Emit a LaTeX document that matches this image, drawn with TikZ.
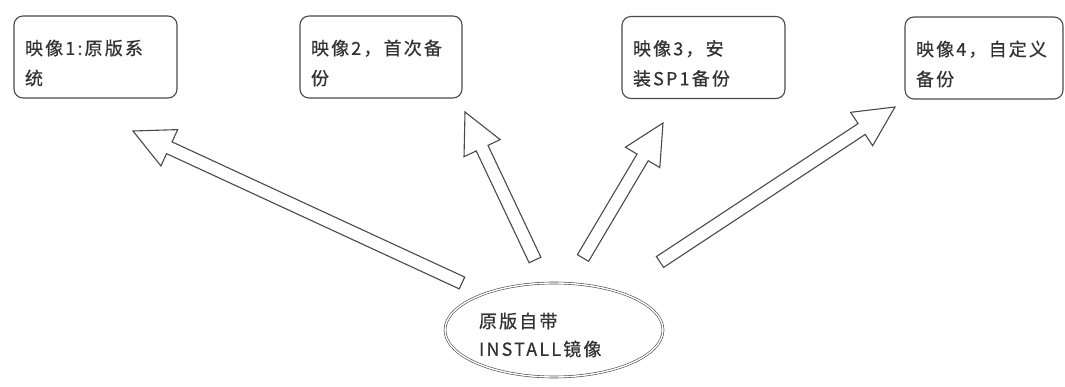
\documentclass[tikz,border=0pt]{standalone}
\usepackage{fontspec}
\usetikzlibrary{calc,shapes.geometric}
\newfontfamily\cjk[LetterSpace=12,FakeBold=0.6]{Noto Sans CJK SC}
\definecolor{linegray}{HTML}{4A4A4A}
\definecolor{textgray}{HTML}{333333}
\newcommand\blockarrow[2]{%
  \coordinate (#2h) at ($(#2)!40pt!(#1)$);
  \draw[blockarr] ($(#1)!6.5pt!90:(#2)$) -- ($(#2h)!6.5pt!-90:(#1)$) -- ($(#2h)!20pt!-90:(#1)$) -- (#2)
    -- ($(#2h)!20pt!90:(#1)$) -- ($(#2h)!6.5pt!90:(#1)$) -- ($(#1)!6.5pt!-90:(#2)$) -- cycle;}
\newcommand\lowertext[1]{\endgraf\vspace*{-#1}}
\begin{document}
\begin{tikzpicture}[x=1pt,y=-1pt,
  imgbox/.style={draw=linegray, line width=1.1pt, rounded corners=9pt, minimum height=82pt,
    inner xsep=11pt, text width=#1, align=left, font=\cjk\fontsize{18}{30}\selectfont, text=textgray,
    execute at end node={\lowertext{12pt}}},
  srcell/.style={ellipse, draw=linegray, line width=0.6pt, double, double distance=1.4pt,
    minimum width=218pt, minimum height=94pt, inner sep=0pt, text width=150pt, align=left,
    font=\cjk\fontsize{18}{28}\selectfont, text=textgray,
    execute at end node={\lowertext{10pt}}},
  blockarr/.style={draw=linegray, line width=1.1pt, line join=miter, fill=white}]
\useasboundingbox[fill=white] (0,0) rectangle (1065,387);
\node[imgbox=141pt] (b1) at (95.5,57) {映像1:原版系\\统};
\node[imgbox=140pt] (b2) at (381,57) {映像2，首次备\\份};
\node[imgbox=141pt] (b3) at (703.5,57.5) {映像3，安\\装SP1备份};
\node[imgbox=136pt] (b4) at (984,58) {映像4，自定义\\备份};
\node[srcell] (src) at (554,330) {原版自带\\INSTALL镜像};
\coordinate (t1) at (462,283);
\coordinate (p1) at (133,131);
\coordinate (t2) at (535,260);
\coordinate (p2) at (465,112);
\coordinate (t3) at (583,258);
\coordinate (p3) at (663,123);
\coordinate (t4) at (660,262);
\coordinate (p4) at (895,107);
\blockarrow{t1}{p1}
\blockarrow{t2}{p2}
\blockarrow{t3}{p3}
\blockarrow{t4}{p4}
\end{tikzpicture}
\end{document}
